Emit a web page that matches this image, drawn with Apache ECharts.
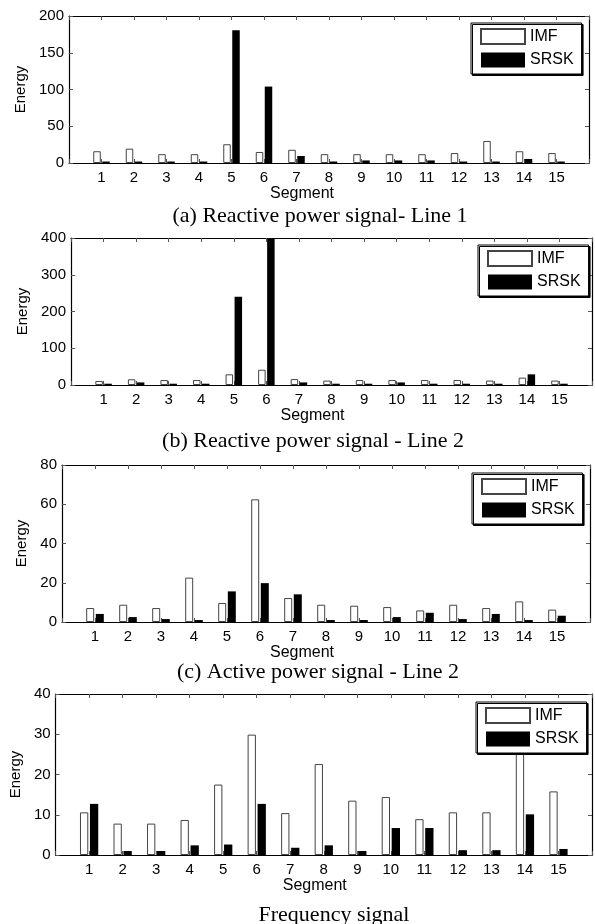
<!DOCTYPE html>
<html>
<head>
<meta charset="utf-8">
<script src="https://cdn.jsdelivr.net/npm/echarts@6/dist/echarts.min.js"></script>
<style>
  html, body { margin: 0; padding: 0; background: #fff; }
  #chart { width: 595px; height: 924px; }
</style>
</head>
<body>
<div id="chart"></div>
<script>
// Segment numbers shared by all four panels
const segments = [1, 2, 3, 4, 5, 6, 7, 8, 9, 10, 11, 12, 13, 14, 15];
const seriesNames = ['IMF', 'SRSK'];

// (a) Reactive power signal - Line 1
const reactiveL1IMF  = [16, 19.5, 12, 12, 25.5, 15, 18, 12, 12, 12, 12, 13.5, 30, 16, 13.5];
const reactiveL1SRSK = [2, 2, 2, 2, 180.5, 104, 9.5, 2, 3.5, 3.5, 3.5, 2, 2, 5.5, 2];

// (b) Reactive power signal - Line 2
const reactiveL2IMF  = [11, 15.5, 13.5, 13.5, 29, 41.5, 16, 12, 13.5, 13.5, 13.5, 13.5, 12, 20, 12];
const reactiveL2SRSK = [3.5, 7, 3.5, 3.5, 240, 400, 7, 3.5, 3.5, 7, 3.5, 3.5, 3.5, 29, 3.5];

// (c) Active power signal - Line 2
const activeL2IMF  = [7.1, 8.8, 7.1, 22.6, 9.7, 62.5, 12.2, 8.8, 8.3, 7.6, 5.9, 8.8, 7.1, 10.5, 6.3];
const activeL2SRSK = [4.1, 2.5, 1.5, 1, 15.6, 19.8, 14.1, 1, 1, 2.5, 4.7, 1.5, 4.1, 1, 3.2];

// Frequency signal
const freqIMF  = [10.6, 7.8, 7.8, 8.7, 17.5, 29.9, 10.4, 22.6, 13.5, 14.4, 8.9, 10.6, 10.6, 37, 15.8];
const freqSRSK = [12.7, 1, 1, 2.4, 2.6, 12.7, 1.8, 2.4, 1, 6.7, 6.7, 1.2, 1.2, 10.1, 1.5];

// Y-axis ranges and tick steps
const yMax  = [200, 400, 80, 40];
const yStep = [50, 100, 20, 10];

const captions = [
  '(a) Reactive power signal- Line 1',
  '(b) Reactive power signal - Line 2',
  '(c) Active power signal - Line 2',
  'Frequency signal'
];

const panelData = [
  [reactiveL1IMF, reactiveL1SRSK],
  [reactiveL2IMF, reactiveL2SRSK],
  [activeL2IMF, activeL2SRSK],
  [freqIMF, freqSRSK]
];

// Layout of each panel
const layout = [
  { left: 69, top: 16,  width: 520, height: 147, legL: 471, legT: 23,  capX: 320, capY: 216, nameX: 22, segShift: -27, segGap: 20, barW: 7.5 },
  { left: 71, top: 238, width: 521, height: 147, legL: 478, legT: 245, capX: 313, capY: 441, nameX: 24, segShift: -19, segGap: 20, barW: 7.5 },
  { left: 62, top: 465, width: 528, height: 157, legL: 472, legT: 473, capX: 318, capY: 672, nameX: 23, segShift: -24, segGap: 23, barW: 8 },
  { left: 54, top: 694, width: 539, height: 161, legL: 476, legT: 702, capX: 334, capY: 915, nameX: 15, segShift: -9,  segGap: 22, barW: 8.3 }
];

const sans = 'Liberation Sans, Arial, sans-serif';
const serif = 'Liberation Serif, Times New Roman, serif';

// inward ticks, as on a boxed plot frame
function inwardTick() {
  return { show: true, inside: true, length: 4, lineStyle: { color: '#555', width: 1 } };
}
function frameLine() {
  return { show: true, onZero: false, lineStyle: { color: '#000', width: 1.2 } };
}

const grid = [], xAxis = [], yAxis = [], series = [], legend = [], graphic = [];

layout.forEach((L, p) => {
  grid.push({ left: L.left, top: L.top, width: L.width, height: L.height });

  // bottom x axis with segment labels
  xAxis.push({
    type: 'value', gridIndex: p, min: 0, max: 16, interval: 1, position: 'bottom',
    axisLine: frameLine(), axisTick: inwardTick(), splitLine: { show: false },
    axisLabel: {
      margin: 7, color: '#000', fontFamily: sans, fontSize: 15,
      formatter: v => (v >= 1 && v <= 15 ? String(v) : '')
    },
    name: 'Segment', nameLocation: 'middle', nameGap: L.segGap,
    nameTextStyle: {
      color: '#000', fontFamily: sans, fontSize: 16,
      padding: [0, -2 * L.segShift, 0, 0]
    }
  });
  // top frame edge
  xAxis.push({
    type: 'value', gridIndex: p, min: 0, max: 16, interval: 1, position: 'top',
    axisLine: frameLine(), axisTick: inwardTick(), axisLabel: { show: false }, splitLine: { show: false }
  });

  // left y axis
  yAxis.push({
    type: 'value', gridIndex: p, min: 0, max: yMax[p], interval: yStep[p], position: 'left',
    axisLine: frameLine(), axisTick: inwardTick(), splitLine: { show: false },
    axisLabel: { margin: 5, color: '#000', fontFamily: sans, fontSize: 15 },
    name: 'Energy', nameLocation: 'middle', nameGap: L.left - L.nameX - 8,
    nameTextStyle: { color: '#000', fontFamily: sans, fontSize: 15 }
  });
  // right frame edge
  yAxis.push({
    type: 'value', gridIndex: p, min: 0, max: yMax[p], interval: yStep[p], position: 'right',
    axisLine: frameLine(), axisTick: inwardTick(), axisLabel: { show: false }, splitLine: { show: false }
  });

  const [imf, srsk] = panelData[p];
  series.push({
    type: 'bar', name: seriesNames[0], xAxisIndex: 2 * p, yAxisIndex: 2 * p,
    data: segments.map((s, i) => [s, imf[i]]),
    barWidth: L.barW, barGap: '20%', clip: true,
    itemStyle: { color: '#fff', borderColor: '#444', borderWidth: 1 }
  });
  series.push({
    type: 'bar', name: seriesNames[1], xAxisIndex: 2 * p, yAxisIndex: 2 * p,
    data: segments.map((s, i) => [s, srsk[i]]),
    barWidth: L.barW, barGap: '20%', clip: true,
    itemStyle: { color: '#000', borderWidth: 0 }
  });

  legend.push({
    data: seriesNames, orient: 'vertical', left: L.legL, top: L.legT,
    itemWidth: 44, itemHeight: 15, itemGap: 7, icon: 'rect',
    padding: [5, 8, 6, 9], backgroundColor: '#fff',
    borderColor: '#000', borderWidth: 1,
    shadowColor: '#000', shadowBlur: 0, shadowOffsetX: 1.5, shadowOffsetY: 1.5,
    textStyle: { color: '#000', fontFamily: sans, fontSize: 16 },
    selectedMode: false, z: 10
  });

  graphic.push({
    type: 'text', x: L.capX, y: L.capY,
    style: {
      text: captions[p], fill: '#000', fontFamily: serif, fontSize: 22,
      align: 'center', verticalAlign: 'middle'
    }
  });
});

const chart = echarts.init(document.getElementById('chart'), null, { renderer: 'canvas' });
chart.setOption({
  animation: false,
  backgroundColor: '#fff',
  grid, xAxis, yAxis, series, legend, graphic
});
</script>
</body>
</html>
